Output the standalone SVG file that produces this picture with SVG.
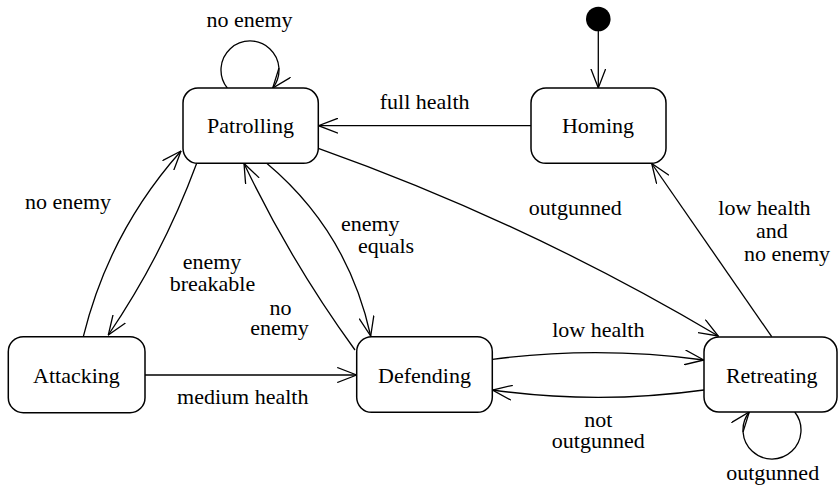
<svg xmlns="http://www.w3.org/2000/svg" width="838" height="487" viewBox="0 0 838 487">
<style>
.box{fill:#fff;stroke:#000;stroke-width:1.5}
.lbl{font-family:"Liberation Serif","DejaVu Serif","Noto Serif",serif;font-size:22px;fill:#000;text-anchor:middle}
.edge{fill:none;stroke:#000;stroke-width:1.3;marker-end:url(#arr)}
</style>
<defs>
<marker id="arr" viewBox="0 0 20 16" refX="19.5" refY="8" markerWidth="20" markerHeight="16" markerUnits="userSpaceOnUse" orient="auto">
<path d="M0,0.5 L19.5,8 L0,15.5" fill="none" stroke="#000" stroke-width="1.3"/>
</marker>
</defs>
<rect width="838" height="487" fill="#fff"/>
<g id="connectors">
<line class="edge" x1="598.3" y1="31" x2="598.3" y2="88"/>
<line class="edge" x1="531" y1="125.7" x2="318.5" y2="125.7"/>
<path class="edge" d="M227.3,88 A29,29 0 1 1 272.7,88"/>
<path class="edge" d="M83.3,336.7 Q109,232 181,151"/>
<path class="edge" d="M196.7,163.3 Q163,254.5 108.3,335"/>
<path class="edge" d="M355,350 Q291,262 244,163.5"/>
<path class="edge" d="M266.7,163.3 Q347.8,231.4 370.7,336"/>
<path class="edge" d="M318.3,148.3 Q527,222.5 718.3,336"/>
<line class="edge" x1="771.7" y1="336.7" x2="651.7" y2="163.5"/>
<line class="edge" x1="145" y1="375" x2="356.7" y2="375"/>
<path class="edge" d="M492.5,359.3 Q598,345.8 703.8,360"/>
<path class="edge" d="M704,390 Q598,404.7 492.5,390"/>
<path class="edge" d="M794.7,412 A29,29 0 1 1 749.3,412"/>
<text class="lbl" x="249.5" y="27">no enemy</text>
<text class="lbl" x="424.7" y="109">full health</text>
<text class="lbl" x="68" y="209">no enemy</text>
<text class="lbl" x="212" y="269">enemy</text>
<text class="lbl" x="212.5" y="291">breakable</text>
<text class="lbl" x="280.5" y="315">no</text>
<text class="lbl" x="279.5" y="335">enemy</text>
<text class="lbl" x="370.3" y="230.5">enemy</text>
<text class="lbl" x="386" y="253">equals</text>
<text class="lbl" x="575.3" y="215">outgunned</text>
<text class="lbl" x="764.5" y="215">low health</text>
<text class="lbl" x="772" y="238">and</text>
<text class="lbl" x="787" y="260.5">no enemy</text>
<text class="lbl" x="242.8" y="404">medium health</text>
<text class="lbl" x="598.3" y="336.5">low health</text>
<text class="lbl" x="598.3" y="427">not</text>
<text class="lbl" x="598.3" y="448">outgunned</text>
<text class="lbl" x="772.7" y="480">outgunned</text>
</g>
<g id="initial">
<circle cx="598.3" cy="19" r="12.3" fill="#000"/>
</g>
<g id="patrolling">
<rect class="box" x="183" y="88" width="135.3" height="75.3" rx="15"/>
<text class="lbl" x="250.5" y="133">Patrolling</text>
</g>
<g id="homing">
<rect class="box" x="531" y="88" width="135" height="75.3" rx="15"/>
<text class="lbl" x="598" y="133">Homing</text>
</g>
<g id="attacking">
<rect class="box" x="8.3" y="336.7" width="136.7" height="76" rx="15"/>
<text class="lbl" x="76.5" y="383">Attacking</text>
</g>
<g id="defending">
<rect class="box" x="356.7" y="336.7" width="135.6" height="75.6" rx="15"/>
<text class="lbl" x="424.5" y="383">Defending</text>
</g>
<g id="retreating">
<rect class="box" x="704" y="337" width="133" height="75" rx="15"/>
<text class="lbl" x="771.7" y="382.7">Retreating</text>
</g>
</svg>
